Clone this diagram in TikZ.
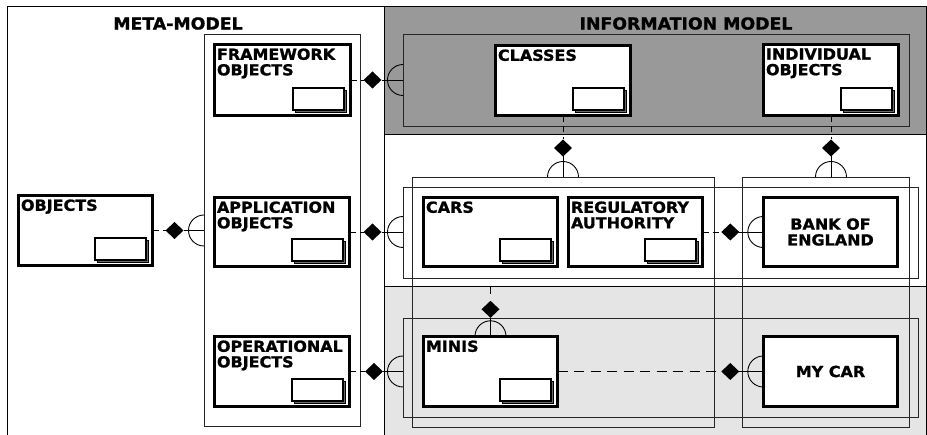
\documentclass[tikz,border=0pt]{standalone}
\usepackage{fontspec}
\setmainfont{DejaVu Sans}[FakeStretch=1.05, BoldFeatures={FakeBold=1.2}]
\usetikzlibrary{shapes.geometric}

\definecolor{bandgray}{RGB}{153,153,153}
\definecolor{lightband}{RGB}{229,229,229}
\definecolor{shadowgray}{RGB}{105,105,105}

\tikzset{
  entity/.style={draw=black, line width=2.6pt, fill=white, inner sep=0pt, outer sep=0pt},
  pane/.style={draw=black!85, line width=0.9pt, inner sep=0pt, outer sep=0pt},
  lbl/.style={inner sep=0pt, align=left, font=\bfseries\fontsize{15.2}{15.6}\selectfont},
  clbl/.style={inner sep=0pt, align=center, font=\bfseries\fontsize{15.2}{15.8}\selectfont},
  heading/.style={inner sep=0pt, font=\bfseries\fontsize{16.5}{18}\selectfont},
  dia/.style={diamond, fill=black, draw=none, minimum width=18pt, minimum height=17pt,
              inner sep=0pt, outer sep=0pt},
  conn/.style={draw=black, line width=0.9pt},
  optional/.style={conn, dash pattern=on 6pt off 4.5pt},
  iconfront/.style={draw=black, fill=white, line width=1.8pt},
  iconback/.style={draw=black, fill=shadowgray, line width=1pt},
  band/.style={draw=black, line width=1pt},
}

% box from corner (x1,y1) to (x2,y2), shrunk by the border width #7
\newcommand\placebox[7]{%
  \pgfmathsetmacro\bxw{#5-#3-#7}%
  \pgfmathsetmacro\bxh{#6-#4-#7}%
  \node[#1, minimum width=\bxw pt, minimum height=\bxh pt] (#2)
    at ({(#3+#5)/2},{(#4+#6)/2}) {};}

% stacked-sheet marker in the lower right corner of an entity box
\newcommand\sheets[1]{%
  \draw[iconback] ([shift={(-55,-25)}]#1.south east) rectangle ([shift={(-4,-3)}]#1.south east);
  \draw[iconfront] ([shift={(-58,-28)}]#1.south east) rectangle ([shift={(-7,-6)}]#1.south east);}

% horizontal relationship: source, target, diamond name, diamond offset, line style
\newcommand\hlink[5]{%
  \coordinate (#3t) at (#1.east -| #2.west);
  \node[dia] (#3) at ([xshift=-#4pt]#3t) {};
  \draw[#5] (#1.east) -- (#3.west);
  \draw[conn] (#3.east) -- (#3t);
  \draw[conn] ([yshift=15.5pt]#3t) arc[start angle=90, end angle=270, radius=15.5pt];}

% vertical relationship: source, target, diamond name, diamond offset, line style
\newcommand\vlink[5]{%
  \coordinate (#3t) at (#1.south |- #2.north);
  \node[dia] (#3) at ([yshift=#4pt]#3t) {};
  \draw[#5] (#1.south) -- (#3.north);
  \draw[conn] (#3.south) -- (#3t);
  \draw[conn] ([xshift=15.5pt]#3t) arc[start angle=0, end angle=180, radius=15.5pt];}

\begin{document}
\begin{tikzpicture}[x=1pt, y=-1pt]
  \useasboundingbox (0,0) rectangle (927,435);
  \fill[white] (0,0) rectangle (927,435);

  % bands of the information model
  \fill[bandgray] (384,7) rectangle (926,135);
  \fill[lightband] (384,287) rectangle (926,435);
  \draw[band] (7,435) -- (7,7) -- (926,7) -- (926,435);
  \draw[band] (384,7) -- (384,435);
  \draw[band] (384,135) -- (926,135);
  \draw[band] (384,287) -- (926,287);

  % headings
  \node[heading] (mm) at (178,23.5) {META-MODEL};
  \node[heading] (im) at (686,23.5) {INFORMATION MODEL};

  % grouping frames
  \placebox{pane}{metacol}{204}{34}{360}{426}{0}
  \placebox{pane}{infogrp}{403}{34}{909}{126}{0}
  \placebox{pane}{classcol}{412}{177}{714}{427}{0}
  \placebox{pane}{bankcol}{742}{177}{909}{427}{0}
  \placebox{pane}{approw}{403}{187}{918}{278}{0}
  \placebox{pane}{oprow}{403}{318}{918}{417}{0}

  % entity boxes
  \placebox{entity}{objects}{17}{194}{154}{267}{2.6}
  \placebox{entity}{fw}{213}{43}{352}{117}{2.6}
  \placebox{entity}{app}{213}{196}{351}{268}{2.6}
  \placebox{entity}{op}{213}{335}{351}{408}{2.6}
  \placebox{entity}{classes}{494}{44}{632}{117}{2.6}
  \placebox{entity}{indiv}{762}{43}{900}{117}{2.6}
  \placebox{entity}{cars}{422}{196}{559}{268}{2.6}
  \placebox{entity}{reg}{567}{196}{704}{268}{2.6}
  \placebox{entity}{bank}{762}{196}{899}{268}{2.6}
  \placebox{entity}{minis}{422}{335}{559}{408}{2.6}
  \placebox{entity}{mycar}{762}{335}{899}{408}{2.6}

  \sheets{objects}
  \sheets{fw}
  \sheets{app}
  \sheets{op}
  \sheets{classes}
  \sheets{indiv}
  \sheets{cars}
  \sheets{reg}
  \sheets{minis}

  % entity names
  \node[lbl, anchor=north west] (objects-l) at ([shift={(2.5,4)}]objects.north west) {OBJECTS};
  \node[lbl, anchor=north west] (fw-l) at ([shift={(2.5,4)}]fw.north west) {FRAMEWORK\\OBJECTS};
  \node[lbl, anchor=north west] (app-l) at ([shift={(2.5,4)}]app.north west) {APPLICATION\\OBJECTS};
  \node[lbl, anchor=north west] (op-l) at ([shift={(2.5,4)}]op.north west) {OPERATIONAL\\OBJECTS};
  \node[lbl, anchor=north west] (classes-l) at ([shift={(2.5,4)}]classes.north west) {CLASSES};
  \node[lbl, anchor=north west] (indiv-l) at ([shift={(2.5,4)}]indiv.north west) {INDIVIDUAL\\OBJECTS};
  \node[lbl, anchor=north west] (cars-l) at ([shift={(2.5,4)}]cars.north west) {CARS};
  \node[lbl, anchor=north west] (reg-l) at ([shift={(2.5,4)}]reg.north west) {REGULATORY\\AUTHORITY};
  \node[lbl, anchor=north west] (minis-l) at ([shift={(2.5,4)}]minis.north west) {MINIS};
  \node[clbl] (bank-l) at (bank.center) {BANK OF\\ENGLAND};
  \node[clbl] (mycar-l) at (mycar.center) {MY CAR};

  % relationships
  \hlink{fw}{infogrp}{d1}{30.5}{optional}
  \hlink{objects}{metacol}{d2}{29.5}{optional}
  \hlink{app}{approw}{d3}{30.5}{optional}
  \hlink{reg}{bank}{d4}{33}{optional}
  \hlink{op}{oprow}{d5}{29}{optional}
  \hlink{minis}{mycar}{d6}{33}{conn, dash pattern=on 10pt off 6.5pt}
  \vlink{classes}{classcol}{d7}{29}{optional}
  \vlink{indiv}{bankcol}{d8}{29}{optional}
  \vlink{cars}{minis}{d9}{27}{conn, dash pattern=on 0pt off 20pt on 7pt off 20pt}
\end{tikzpicture}
\end{document}
